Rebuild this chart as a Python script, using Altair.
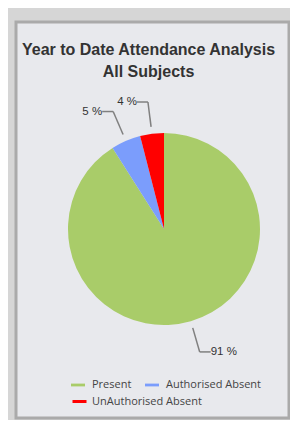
import altair as alt
import pandas as pd

categories = ["Present", "Authorised Absent", "UnAuthorised Absent"]
values = [91, 5, 4]
labels = ["91 %", "5 %", "4 %"]
colors = ["#a9cc69", "#7b9dfc", "#ff0000"]

df = pd.DataFrame({
    "category": categories,
    "value": values,
    "label": labels,
    "idx": list(range(len(categories))),
})

CX, CY = 148, 207      # pie centre inside the card (layout)
R = 96                 # pie radius
R0, R1 = 103, 128      # leader line radii
HOOK = 11

legend_style = dict(
    title=None,
    orient="none",
    legendX=55,
    direction="horizontal",
    symbolSize=196,
    labelFont="Open Sans",
    labelFontSize=11,
    labelColor="#444444",
    columnPadding=13,
)

base = alt.Chart(df)

pie = base.mark_arc(outerRadius=R, stroke=None).encode(
    theta=alt.Theta("value:Q", stack=True),
    order=alt.Order("idx:O"),
    color=alt.Color(
        "category:N",
        sort=categories,
        scale=alt.Scale(domain=categories, range=colors),
        legend=alt.Legend(
            values=categories[:2],
            legendY=356,
            labelOffset=7,
            symbolType="M-1,-0.2H1V0.2H-1Z",
            symbolStrokeWidth=0,
            **legend_style,
        ),
    ),
    x=alt.value(CX),
    y=alt.value(CY),
)

# second legend row (flow layout like the original)
legend2 = base.transform_filter(
    alt.FieldOneOfPredicate(field="category", oneOf=categories[2:])
).mark_point(size=0, filled=False).encode(
    x=alt.value(CX),
    y=alt.value(CY),
    stroke=alt.Stroke(
        "category:N",
        scale=alt.Scale(domain=categories[2:], range=colors[2:]),
        legend=alt.Legend(
            legendY=371,
            labelOffset=4,
            symbolType="M-1,0H1",
            symbolStrokeWidth=3,
            symbolOpacity=1,
            **legend_style,
        ),
    ),
)

geo = base.transform_joinaggregate(
    total="sum(value)"
).transform_window(
    cum="sum(value)", sort=[alt.SortField("idx")], frame=[None, 0]
).transform_calculate(
    mid="(datum.cum - datum.value / 2) / datum.total * 2 * PI",
).transform_calculate(
    s="sin(datum.mid)", c="cos(datum.mid)",
).transform_calculate(
    x0=f"{CX} + {R0} * datum.s",
    y0=f"{CY} - {R0} * datum.c",
    x1=f"{CX} + {R1} * datum.s",
    y1=f"{CY} - {R1} * datum.c",
).transform_calculate(
    x2=f"datum.x1 + (datum.s >= 0 ? {HOOK} : -{HOOK})",
)

rule1 = geo.mark_rule(color="#808080", strokeWidth=1.5).encode(
    x=alt.X("x0:Q", scale=None), y=alt.Y("y0:Q", scale=None),
    x2="x1:Q", y2="y1:Q",
)
rule2 = geo.mark_rule(color="#808080", strokeWidth=1.5).encode(
    x=alt.X("x1:Q", scale=None), y=alt.Y("y1:Q", scale=None),
    x2="x2:Q", y2="y1:Q",
)
txt_right = geo.transform_filter("datum.s >= 0").mark_text(
    align="left", baseline="middle", font="Liberation Sans", fontSize=11.5, color="#333333", dx=0
).encode(x=alt.X("x2:Q", scale=None), y=alt.Y("y1:Q", scale=None), text="label:N")
txt_left = geo.transform_filter("datum.s < 0").mark_text(
    align="right", baseline="middle", font="Liberation Sans", fontSize=11.5, color="#333333", dx=0
).encode(x=alt.X("x2:Q", scale=None), y=alt.Y("y1:Q", scale=None), text="label:N")

chart = alt.layer(pie, legend2, rule1, rule2, txt_right, txt_left).resolve_legend(
    color="independent", stroke="independent"
).properties(
    width=273,
    height=396,
    background="#d6d6d6",
    padding={"left": 8, "top": 14, "right": 1, "bottom": 2},
    autosize=alt.AutoSizeParams(type="none"),
    title=alt.TitleParams(
        text=["Year to Date Attendance Analysis", "All Subjects"],
        font="Liberation Sans",
        fontSize=16,
        fontWeight="bold",
        color="#333333",
        anchor="middle",
        lineHeight=22,
        offset=-58,
        dx=-4,
    ),
).configure_view(
    fill="#e8e9ed",
    stroke="#aaaaaa",
    strokeWidth=3,
)

chart.save("out.html", embed_options={"renderer": "svg", "actions": False})
